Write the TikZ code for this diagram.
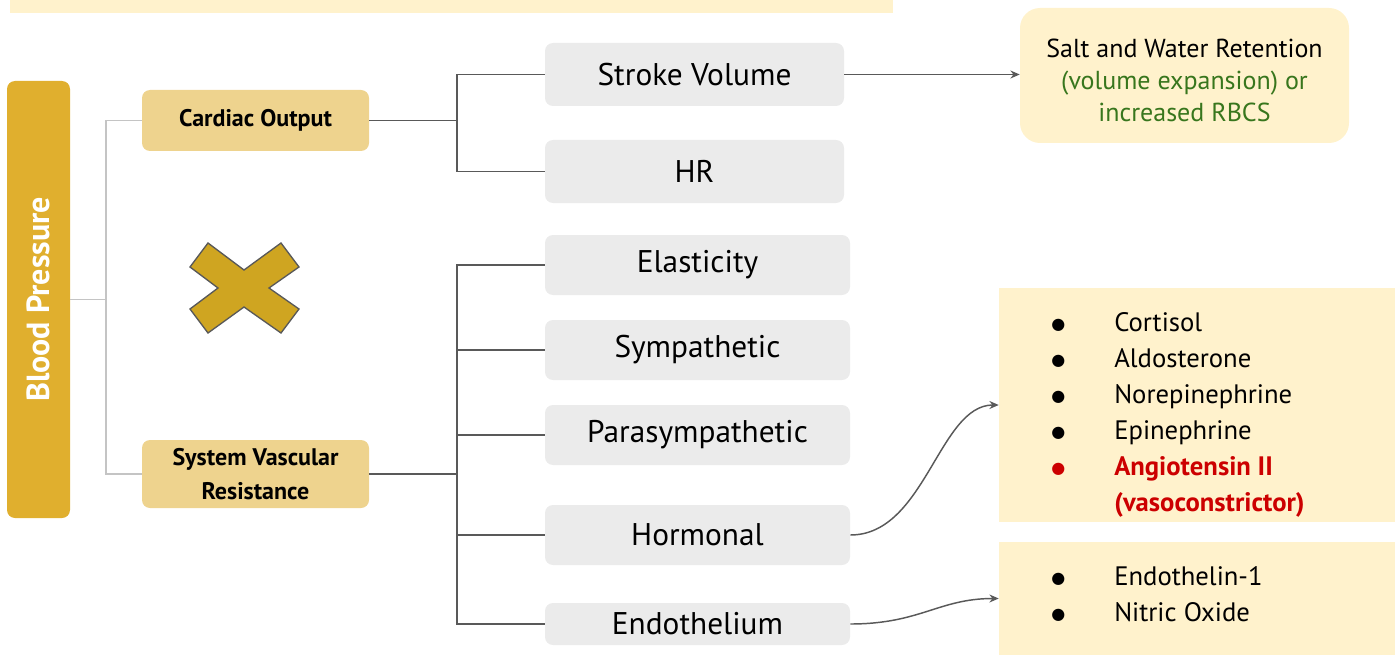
\documentclass[tikz,border=0pt]{standalone}
\usepackage{fontspec}
\setmainfont{PT Sans}
\newfontfamily\symbfont{DejaVu Sans}
\usetikzlibrary{arrows.meta}
\definecolor{bandyellow}{HTML}{FFF2CC}
\definecolor{bpgold}{HTML}{E0AF2E}
\definecolor{lightgold}{HTML}{EED38E}
\definecolor{boxgrey}{HTML}{EBEBEB}
\definecolor{linegrey}{HTML}{595959}
\definecolor{palegrey}{HTML}{C4C4C4}
\definecolor{crossgold}{HTML}{CFA521}
\definecolor{leafgreen}{HTML}{38761D}
\definecolor{alertred}{HTML}{CC0000}
\newcommand{\dotitem}{\raisebox{1.5pt}{\symbfont\fontsize{12}{12}\selectfont ●}}

\begin{document}
\begin{tikzpicture}[x=0.75pt, y=-0.75pt,
    every node/.style={inner sep=0pt},
    factorbox/.style={fill=boxgrey, rounded corners=6pt, minimum width=228.75pt, minimum height=45pt, font=\fontsize{23.5}{28}\selectfont},
    mainbox/.style={fill=lightgold, rounded corners=6pt, minimum width=170.25pt, align=center, font=\bfseries\fontsize{18}{25}\selectfont},
    notebox/.style={fill=bandyellow, minimum width=297pt},
    paleline/.style={palegrey, line width=1.4pt},
    treeline/.style={linegrey, line width=1.4pt},
    curvearrow/.style={linegrey, line width=1.1pt, -{Stealth[length=7pt, width=6pt, open]}}]
  \useasboundingbox (0,0) rectangle (1395,656);
  \fill[bandyellow] (10,0) rectangle (893,13);

  \node (bp) [fill=bpgold, rounded corners=6pt, minimum width=47.25pt, minimum height=327.75pt] at (38.5,299.5) {};
  \node (bplabel) [rotate=90, text=white, font=\bfseries\fontsize{24}{28}\selectfont] at (bp) {Blood Pressure};

  \node (co) [mainbox, minimum height=45.75pt] at (255.5,120.5) {Cardiac Output};
  \node (svr) [mainbox, minimum height=51pt] at (255.5,474) {System Vascular\\Resistance};

  \draw[fill=crossgold, draw=linegrey, line width=1pt]
    (208,243) -- (244,270) -- (281,243) -- (299,267) -- (269,288) -- (299,309)
    -- (281,333) -- (244,307) -- (208,333) -- (190,309) -- (218,288) -- (190,267) -- cycle;

  \node (sv) [factorbox, minimum width=224.25pt, minimum height=47.25pt] at (694.5,74.5) {Stroke Volume};
  \node (hr) [factorbox, minimum width=224.25pt, minimum height=47.25pt] at (694.5,171.5) {HR};
  \node (el) [factorbox] at (697.5,265) {Elasticity};
  \node (sym) [factorbox] at (697.5,350) {Sympathetic};
  \node (para) [factorbox] at (697.5,435) {Parasympathetic};
  \node (horm) [factorbox] at (697.5,535) {Hormonal};
  \node (endo) [factorbox, minimum height=31.5pt] at (697.5,624) {Endothelium};

  \node (salt) [fill=bandyellow, rounded corners=15pt, minimum width=246.75pt, minimum height=101.25pt] at (1184.5,75.5) {};
  \node (salttext) [align=center, font=\fontsize{19.5}{24}\selectfont] at (1184.5,80)
    {Salt and Water Retention\\\textcolor{leafgreen}{(volume expansion) or}\\\textcolor{leafgreen}{increased RBCS}};

  \node (hormlist) [notebox, minimum height=175.5pt] at (1197,405) {};
  \node (hormitems) [anchor=base west, font=\fontsize{20}{27}\selectfont] at (1051,331)
    {\begin{tabular}[t]{@{}p{47.25pt}@{}l@{}}
      \dotitem & Cortisol\\
      \dotitem & Aldosterone\\
      \dotitem & Norepinephrine\\
      \dotitem & Epinephrine\\
      \textcolor{alertred}{\dotitem} & \textcolor{alertred}{\bfseries Angiotensin II}\\
      & \textcolor{alertred}{\bfseries (vasoconstrictor)}
    \end{tabular}};
  \node (endolist) [notebox, minimum height=84.75pt] at (1197,598.5) {};
  \node (endoitems) [anchor=base west, font=\fontsize{20}{27}\selectfont] at (1051,585)
    {\begin{tabular}[t]{@{}p{47.25pt}@{}l@{}}
      \dotitem & Endothelin-1\\
      \dotitem & Nitric Oxide
    \end{tabular}};

  % tree connectors
  \draw[paleline] (bp.east) -- ++(36,0) coordinate (bpjoin);
  \draw[paleline] (bpjoin) |- (co.west);
  \draw[paleline] (bpjoin) |- (svr.west);
  \draw[treeline] (co.east) -- ++(88,0) coordinate (cojoin);
  \draw[treeline] (cojoin) |- (sv.west);
  \draw[treeline] (cojoin) |- (hr.west);
  \draw[treeline] (svr.east) -- ++(88,0) coordinate (svrjoin);
  \foreach \leaf in {el,sym,para,horm,endo}
    \draw[treeline] (svrjoin) |- (\leaf.west);

  \draw[curvearrow] (sv.east) -- (sv.east -| salt.west);
  \draw[curvearrow] (horm.east) .. controls +(75,0) and +(-60,0) .. (hormlist.west);
  \draw[curvearrow] (endo.east) .. controls +(70,0) and +(-60,0) .. (endolist.west);
\end{tikzpicture}
\end{document}
